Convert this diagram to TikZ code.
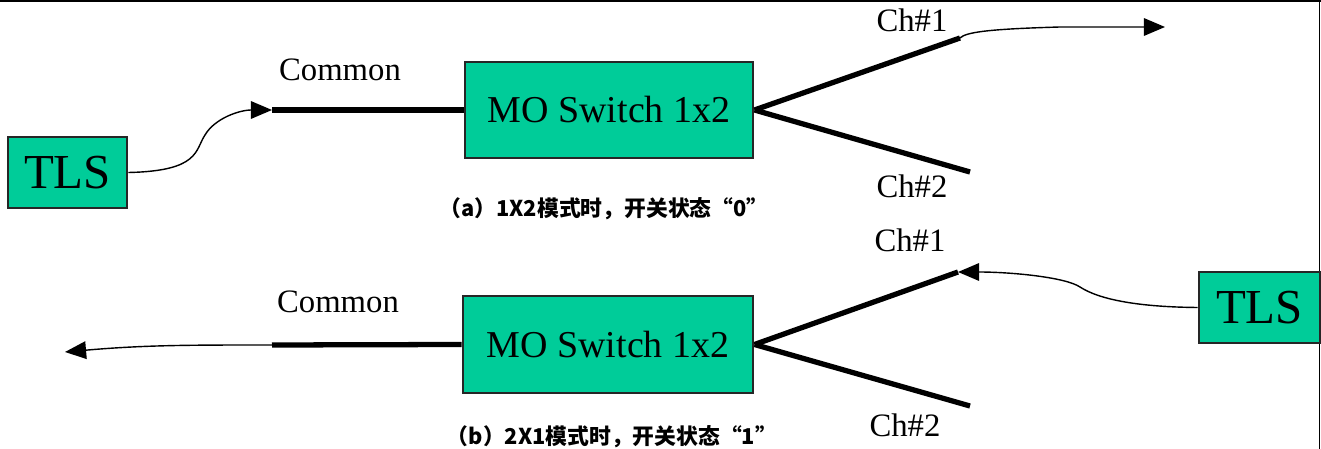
\documentclass[tikz,border=0pt]{standalone}
\usepackage{fontspec}
\setmainfont{Liberation Serif}
\newfontfamily\cjkfont{Noto Sans CJK SC}
\usetikzlibrary{arrows.meta}
\definecolor{tlsgreen}{HTML}{00CC99}
\tikzset{
  box/.style={draw=black!85, fill=tlsgreen, line width=0.8pt, inner sep=0pt},
  fiber/.style={line width=1.5pt},
  lead/.style={line width=0.4pt, -{Triangle[length=6pt,width=5pt]}},
  lbl/.style={font=\fontsize{9.3}{10}\selectfont},
  modecap/.style={font=\cjkfont\bfseries\fontsize{6.2}{7}\selectfont},
}

\begin{document}
\begin{tikzpicture}[x=0.01cm, y=-0.01cm]
	\useasboundingbox (0,0) rectangle (1321,449);
	\draw[line width=0.7pt] (0,1) -- (1321,1);
	\draw[line width=0.5pt] (1319.5,0) -- (1319.5,449);
	
	% (a) 1x2
	\node[box, minimum width=1.19cm, minimum height=0.71cm, font=\fontsize{13.9}{14}\selectfont] (tlsA) at (67.5,172.5) {TLS};
	\node[box, minimum width=2.88cm, minimum height=0.96cm, font=\fontsize{10.8}{12}\selectfont] (swA) at (609,110) {MO Switch 1x2};
	\coordinate (comA) at (272,110);
	\coordinate (ch1A) at (960,38);
	\coordinate (ch2A) at (970,172);
	\coordinate (outA) at (1165,27);
	\draw[fiber] (comA) -- (swA.west);
	\draw[fiber] (swA.east) -- (ch1A);
	\draw[fiber] (swA.east) -- (ch2A);
	\draw[lead] (tlsA.east) .. controls (200,171) and (195,150) .. (205,135) .. controls (215,118) and (240,110) .. (comA);
	\draw[lead] (ch1A) .. controls (966,32) and (990,29) .. (1060,27) -- (outA);
	\node[lbl] (comlblA) at (340,70) {Common};
	\node[lbl] (ch1lblA) at (912,20) {Ch\#1};
	\node[lbl] (ch2lblA) at (912,186) {Ch\#2};
	\node[modecap] (capA) at (604,209) {（a）1X2模式时，开关状态“0”};
	
	% (b) 2x1
	\node[box, minimum width=2.90cm, minimum height=0.97cm, font=\fontsize{10.8}{12}\selectfont] (swB) at (608,344.5) {MO Switch 1x2};
	\node[box, minimum width=1.21cm, minimum height=0.71cm, font=\fontsize{13.9}{14}\selectfont] (tlsB) at (1259.5,307.5) {TLS};
	\coordinate (comB) at (272,345);
	\coordinate (outB) at (65,352);
	\coordinate (ch1B) at (958,272);
	\coordinate (ch2B) at (970,406);
	\draw[fiber] (comB) -- (swB.west);
	\draw[fiber] (swB.east) -- (ch1B);
	\draw[fiber] (swB.east) -- (ch2B);
	\draw[lead] (comB) to[out=180, in=5] (outB);
	\draw[lead] (tlsB.west) .. controls (1140,307) and (1100,300) .. (1080,287) .. controls (1065,277) and (1010,272) .. (ch1B);
	\node[lbl] (comlblB) at (338,302) {Common};
	\node[lbl] (ch1lblB) at (910,240) {Ch\#1};
	\node[lbl] (ch2lblB) at (905,425) {Ch\#2};
	\node[modecap] (capB) at (612,437) {（b）2X1模式时，开关状态“1”};
\end{tikzpicture}
\end{document}
